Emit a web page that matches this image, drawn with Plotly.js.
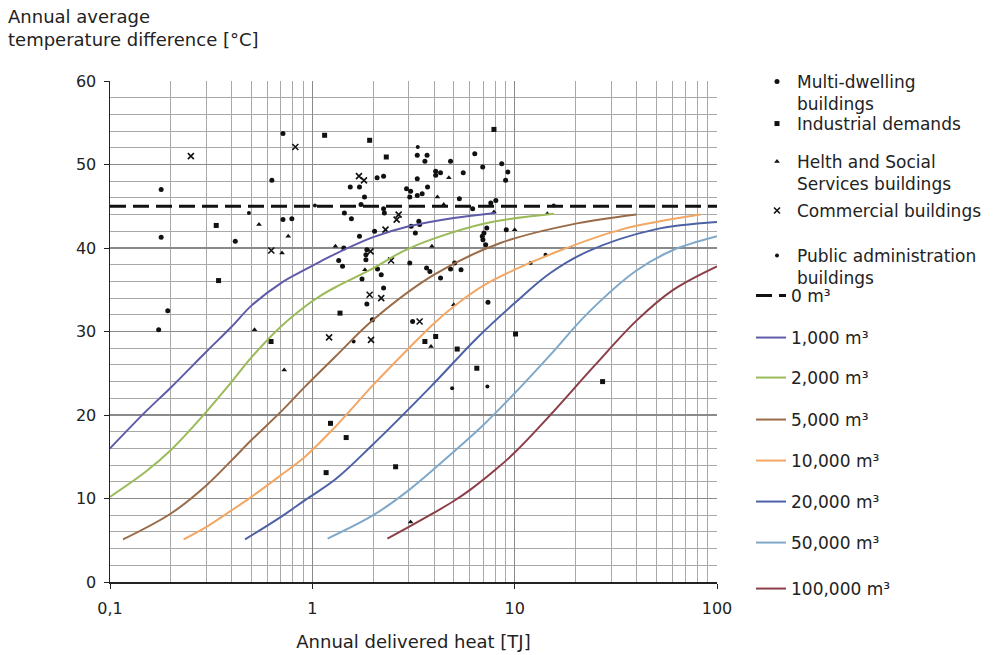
<!DOCTYPE html>
<html>
<head>
<meta charset="utf-8">
<script src="https://cdn.plot.ly/plotly-3.0.1.min.js"></script>
<style>html,body{margin:0;padding:0;background:#fff;}#chart{width:995px;height:655px;}</style>
</head>
<body>
<div id="chart"></div>
<script>
// ---- Data ----
const multiX = [0.179,0.179,0.193,0.174,0.416,0.631,0.716,0.716,0.792,3.30,3.69,3.60,4.82,6.35,6.95,8.63,9.26,9.02,5.57,4.07,4.30,4.07,3.30,2.25,2.09,1.54,1.71,3.71,2.92,3.06,3.49,3.30,3.03,1.81,5.33,1.74,6.2,7.62,8.07,1.44,1.56,2.25,2.27,3.36,3.39,3.08,3.23,2.03,1.71,1.43,1.86,1.84,1.84,1.35,1.41,3.03,2.10,2.19,3.67,3.81,5.05,4.82,5.43,4.30,1.76,2.25,7.28,7.05,6.92,6.97,7.19,9.09,1.86,1.98,3.13,7.38];
const multiY = [47.0,41.3,32.5,30.2,40.8,48.1,53.7,43.4,43.5,51.1,51.1,50.4,50.4,51.3,49.7,50.1,49.1,48.1,49.0,49.2,49.0,48.7,48.3,48.6,48.4,47.3,47.3,47.3,47.1,46.8,46.5,46.3,46.1,46.1,45.9,45.2,44.7,45.4,45.7,44.2,43.5,44.7,44.2,43.2,42.8,42.6,41.8,42.0,41.4,40.0,39.8,39.2,38.6,38.5,37.8,38.2,37.5,36.8,37.6,37.2,38.2,37.5,37.4,36.4,36.3,35.2,42.4,41.8,41.4,41.0,40.4,42.2,33.3,31.4,31.2,33.5];

const indX = [0.335,0.344,0.625,1.15,1.92,7.9,2.32,10.1,1.37,2.58,1.17,1.23,1.47,6.5,27.2,5.2,3.60,4.07];
const indY = [42.7,36.1,28.8,53.5,52.9,54.2,50.9,29.7,32.2,13.8,13.1,19.0,17.3,25.6,24.0,27.9,28.8,29.4];

const healthX = [0.545,0.76,0.708,0.518,0.726,4.73,4.15,4.46,7.9,1.30,3.9,1.82,10.0,14.5,3.86,5.0,3.06];
const healthY = [42.8,41.4,39.4,30.2,25.4,48.4,46.1,45.2,44.3,40.2,40.2,37.4,42.2,44.1,28.2,33.2,7.2];

const commX = [0.251,0.824,0.627,1.70,1.80,2.67,2.61,2.30,1.94,2.45,1.92,2.19,3.39,1.21,1.95];
const commY = [51.0,52.1,39.7,48.6,48.1,44.0,43.4,42.2,39.6,38.5,34.4,34.0,31.2,29.3,29.0];

const pubX = [3.32,1.60,0.486,1.03,15.6,12.0,14.2,4.91,7.33];
const pubY = [52.1,28.8,44.2,45.1,45.1,38.2,39.2,23.2,23.4];

const zeroX = [0.1, 100];
const zeroY = [45, 45];

const c1000X = [0.1,0.15,0.2,0.3,0.4,0.5,0.7,0.92,1.1,1.3,2,3,5,8];
const c1000Y = [16,20.4,23.3,27.6,30.6,33.1,35.8,37.4,38.4,39.3,41.3,42.6,43.6,44.2];
const c2000X = [0.1,0.15,0.2,0.3,0.4,0.5,0.7,0.92,1.1,1.3,1.94,2.8,3.85,7.3,15.6];
const c2000Y = [10.2,13.2,15.8,20.4,24.0,26.9,30.6,33.0,34.3,35.3,37.4,39.6,41.0,43.0,44.1];
const c5000X = [0.116,0.2,0.3,0.4,0.5,0.7,0.92,1.3,2,4,8.5,19,40];
const c5000Y = [5.1,8.2,11.6,14.6,17.0,20.4,23.4,27.0,31.4,36.8,40.6,42.8,44.0];
const c10000X = [0.231,0.3,0.4,0.5,0.7,0.92,1.3,2,3,4,5,7,10,15.6,33.5,83];
const c10000Y = [5.1,6.6,8.6,10.2,12.8,15.0,18.6,23.6,28.0,31.0,33.0,35.5,37.4,39.4,42.2,44];
const c20000X = [0.465,0.7,0.92,1.3,1.94,3.85,6.5,10,15,23,49,100];
const c20000Y = [5.1,7.8,9.8,12.3,16.2,23.4,29.2,33.4,37.0,39.6,42.2,43.1];
const c50000X = [1.19,2,3,5,7,10,15,23,40,60,100];
const c50000Y = [5.2,8.0,11.0,15.6,18.8,22.6,27.2,32.2,37.3,39.7,41.4];
const c100000X = [2.35,3,4,5,6,8,10,15,25,40,60,100];
const c100000Y = [5.2,6.6,8.3,9.7,11.0,13.4,15.5,20.0,26.0,31.3,34.9,37.8];

const xTickVals = [0.1, 1, 10, 100];
const xTickText = ['0,1', '1', '10', '100'];

const seriesNames = ['Multi-dwelling<br>buildings','Industrial demands','Helth and Social<br>Services buildings','Commercial buildings','Public administration<br>buildings','0 m³','1,000 m³','2,000 m³','5,000 m³','10,000 m³','20,000 m³','50,000 m³','100,000 m³'];

// ---- Layout geometry ----
const W = 995, H = 655;
const M = {l:110, r:278, t:81, b:73};
const pw = W - M.l - M.r, ph = H - M.t - M.b;
const FONT = 'DejaVu Sans, Arial, sans-serif';
const TXT = '#222';

function px2x(px){ return (px - M.l) / pw; }
function py2y(py){ return (H - M.b - py) / ph; }

// legend first-line centres (pixels)
const legTops = [82,124,162,211,256,296,338,378,420,461,502,543,589];
function legendAt(i){
  const isMarker = i < 5;
  return {
    xref:'container', x: (isMarker ? 757 : 751) / W, xanchor:'left',
    yref:'paper', y: py2y(legTops[i] - 18), yanchor:'top',
    valign:'top', bgcolor:'rgba(0,0,0,0)', borderwidth:0,
    font:{family:FONT, size:17, color:TXT},
    itemclick:false, itemdoubleclick:false
  };
}

const traces = [];
function mk(x, y, sym, size){
  return {type:'scatter', mode:'markers', x:x, y:y, hoverinfo:'skip',
          marker:{symbol:sym, size:size, color:'#111', line:{width:0}}};
}
traces.push(mk(multiX, multiY, 'circle', 5));
traces.push(mk(indX, indY, 'square', 5));
traces.push(mk(healthX, healthY, 'triangle-up', 5));
const ct = mk(commX, commY, 'x-thin', 6); ct.marker.line = {width:1.6, color:'#111'}; traces.push(ct);
traces.push(mk(pubX, pubY, 'circle', 4));

traces.push({type:'scatter', mode:'lines', x:zeroX, y:zeroY, hoverinfo:'skip',
             line:{color:'#111', width:3, dash:'16px,7px'}});

const curves = [
  [c1000X, c1000Y, '#5e5ca8'],
  [c2000X, c2000Y, '#9bbb59'],
  [c5000X, c5000Y, '#9a6b48'],
  [c10000X, c10000Y, '#f2a765'],
  [c20000X, c20000Y, '#4d62a6'],
  [c50000X, c50000Y, '#7fa8c9'],
  [c100000X, c100000Y, '#8c3e48']
];
curves.forEach(c => traces.push({type:'scatter', mode:'lines', x:c[0], y:c[1], hoverinfo:'skip',
  line:{color:c[2], width:2, shape:'spline', smoothing:1}}));

const layout = {
  width: W, height: H,
  margin: {l:M.l, r:M.r, t:M.t, b:M.b, pad:0},
  paper_bgcolor:'#fff', plot_bgcolor:'#fff',
  font:{family:FONT, color:TXT, size:16},
  xaxis:{
    type:'log', range:[-1, 2], tickmode:'array', tickvals:xTickVals, ticktext:xTickText,
    showgrid:true, gridcolor:'#8a8a8a', gridwidth:1.3,
    minor:{tickmode:'array', tickvals:[0.2,0.3,0.4,0.5,0.6,0.7,0.8,0.9,2,3,4,5,6,7,8,9,20,30,40,50,60,70,80,90], showgrid:true, gridcolor:'#a8a8a8', gridwidth:1},
    showline:true, linecolor:'#222', linewidth:1.5, ticks:'outside', ticklen:5, tickcolor:'#222',
    ticklabelstandoff:6,
    tickfont:{family:FONT, size:16, color:TXT}, zeroline:false,
    title:{text:'Annual delivered heat [TJ]', font:{family:FONT, size:18, color:TXT}, standoff:18}
  },
  yaxis:{
    range:[0, 60], dtick:10, tick0:0,
    showgrid:true, gridcolor:'#8a8a8a', gridwidth:1.3,
    minor:{dtick:2, showgrid:true, gridcolor:'#a8a8a8', gridwidth:1},
    showline:true, linecolor:'#222', linewidth:1.5, ticks:'outside', ticklen:5, tickcolor:'#222',
    ticklabelstandoff:4,
    tickfont:{family:FONT, size:16, color:TXT}, zeroline:false
  },
  annotations:[{
    text:'Annual average<br>temperature difference [°C]', showarrow:false, align:'left',
    xref:'paper', yref:'paper', x:px2x(6), xanchor:'left', y:py2y(4), yanchor:'top',
    font:{family:FONT, size:18, color:TXT}
  }]
};

traces.forEach((t, i) => {
  t.name = seriesNames[i];
  const key = i === 0 ? 'legend' : 'legend' + (i + 1);
  t.legend = key;
  t.showlegend = true;
  layout[key] = legendAt(i);
});

Plotly.newPlot('chart', traces, layout, {staticPlot:true, displayModeBar:false});
</script>
</body>
</html>
